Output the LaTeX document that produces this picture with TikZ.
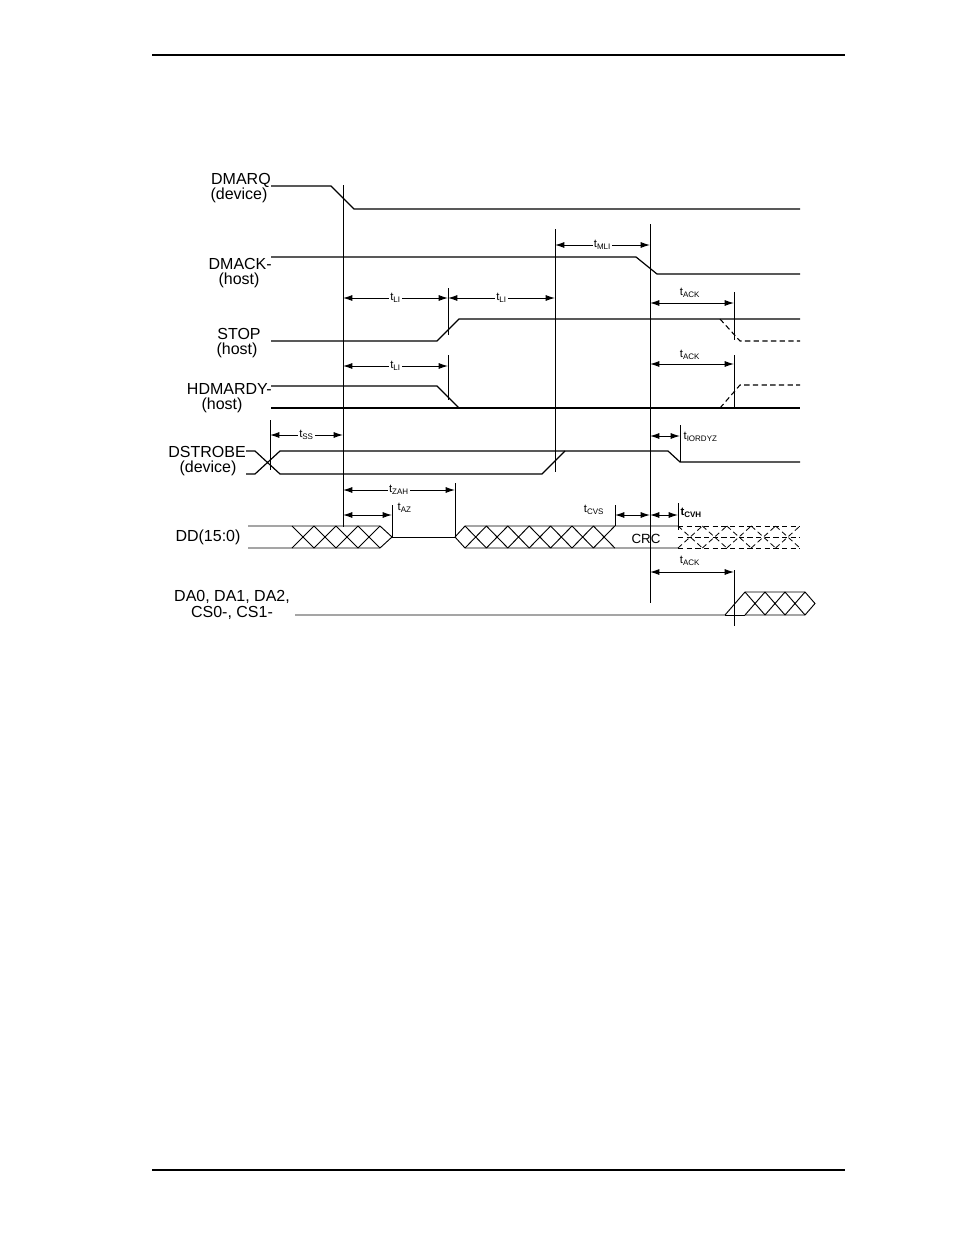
\documentclass[tikz,border=0pt]{standalone}
\usepackage{fontspec}
\setmainfont{Liberation Sans}
\usetikzlibrary{arrows.meta}
\begin{document}
\begin{tikzpicture}[x=0.75pt,y=-0.75pt,
  sig/.style={line width=0.9pt},
  thin/.style={line width=0.7pt},
  dsig/.style={line width=0.8pt,dash pattern=on 4pt off 2.5pt},
  dim/.style={line width=0.7pt,{Latex[length=7pt,width=4.5pt]}-{Latex[length=7pt,width=4.5pt]}},
  dimr/.style={line width=0.7pt,-{Latex[length=7pt,width=4.5pt]}},
  lbl/.style={font=\fontsize{12}{13}\selectfont,inner sep=0pt,align=center},
  tl/.style={font=\fontsize{8.5}{9}\selectfont,inner sep=1pt,fill=white}]
\useasboundingbox (0,0) rectangle (954,1235);
\draw[line width=0.8pt] (152,55) -- (845,55);
\draw[line width=1.1pt] (152,1170) -- (845,1170);
% labels
\node[lbl,anchor=east] (l1) at (271,180) {DMARQ};
\node[lbl] (l1b) at (239,195) {(device)};
\node[lbl,anchor=east] (l2) at (272,264) {DMACK-};
\node[lbl] (l2b) at (239,280) {(host)};
\node[lbl] (l3) at (239,334) {STOP};
\node[lbl] (l3b) at (237,350) {(host)};
\node[lbl,anchor=east] (l4) at (272,389) {HDMARDY-};
\node[lbl] (l4b) at (222,405) {(host)};
\node[lbl,anchor=east] (l5) at (246,452) {DSTROBE};
\node[lbl] (l5b) at (208,468) {(device)};
\node[lbl] (l6) at (208,537) {DD(15:0)};
\node[lbl] (l7) at (232,597) {DA0, DA1, DA2,};
\node[lbl] (l7b) at (232,613) {CS0-, CS1-};
% verticals
\coordinate (v1a) at (343,185); \coordinate (v1b) at (343,527);
\coordinate (v2a) at (555,229); \coordinate (v2b) at (555,472);
\coordinate (v3a) at (650,224); \coordinate (v3b) at (650,603);
\draw[thin] (v1a) -- (v1b); \draw[thin] (v2a) -- (v2b); \draw[thin] (v3a) -- (v3b);
% DMARQ
\draw[sig] (271,186) -- (331,186) -- (354,209) -- (800,209);
% DMACK
\draw[sig] (271,257) -- (636,257) -- (657,274) -- (800,274);
% STOP
\draw[sig] (271,341) -- (437,341) -- (459,319) -- (800,319);
\draw[dsig] (720,319) -- (740,341) -- (800,341);
% HDMARDY
\draw[sig] (271,386) -- (437,386) -- (459,408);
\draw[sig] (271,408) -- (800,408);
\draw[dsig] (720,408) -- (740,385) -- (800,385);
% DSTROBE
\draw[sig] (246,451) -- (255,451) -- (280,474) -- (542,474) -- (565,451);
\draw[sig] (246,474) -- (255,474) -- (280,451) -- (668,451) -- (680,462) -- (800,462);
% tMLI
\draw[dim] (555,245) -- node[tl]{t\textsubscript{\fontsize{6}{6}\selectfont MLI}} (650,245);
% tLI
\coordinate (vl1) at (448,288); \coordinate (vl2) at (448,335);
\draw[thin] (vl1) -- (vl2);
\draw[dim] (343,298) -- node[tl]{t\textsubscript{\fontsize{6}{6}\selectfont LI}} (448,298);
\draw[dim] (448,298) -- node[tl]{t\textsubscript{\fontsize{6}{6}\selectfont LI}} (555,298);
\draw[thin] (448,355) -- (448,400);
\draw[dim] (343,366) -- node[tl]{t\textsubscript{\fontsize{6}{6}\selectfont LI}} (448,366);
% tACK
\draw[thin] (734,292) -- (734,340);
\draw[dim] (650,303) -- (734,303);
\node[tl] (ta1) at (690,293) {t\textsubscript{\fontsize{6}{6}\selectfont ACK}};
\draw[thin] (734,355) -- (734,408);
\draw[dim] (650,364) -- (734,364);
\node[tl] (ta2) at (690,355) {t\textsubscript{\fontsize{6}{6}\selectfont ACK}};
% tSS
\draw[thin] (270,420) -- (270,470);
\draw[dim] (270,435) -- node[tl]{t\textsubscript{\fontsize{6}{6}\selectfont SS}} (343,435);
% tIORDYZ
\draw[thin] (680,425) -- (680,462);
\draw[dim] (650,436) -- (680,436);
\node[tl,anchor=west,fill=none] (tio) at (682,437) {t\textsubscript{\fontsize{6}{6}\selectfont IORDYZ}};
% tZAH, tAZ
\draw[thin] (455,483) -- (455,537);
\draw[dim] (343,490) -- node[tl]{t\textsubscript{\fontsize{6}{6}\selectfont ZAH}} (455,490);
\draw[thin] (392,505) -- (392,537);
\draw[dim] (343,515) -- (392,515);
\node[tl,anchor=west,fill=none] (taz) at (396,508) {t\textsubscript{\fontsize{6}{6}\selectfont AZ}};
% tCVS, tCVH
\draw[thin] (615,505) -- (615,526);
\draw[dim] (615,515) -- (650,515);
\node[tl,fill=none] (tcvs) at (594,510) {t\textsubscript{\fontsize{6}{6}\selectfont CVS}};
\draw[thin] (678,503) -- (678,530);
\draw[dim] (650,515) -- (678,515);
\node[tl,anchor=west,fill=none] (tcvh) at (679,513) {\bfseries t\textsubscript{\fontsize{6}{6}\selectfont CVH}};
% DD bus
\draw[thin] (248,526) -- (380,526) -- (392,537) -- (380,548) -- (248,548);
\foreach \i in {0,...,3} {
  \pgfmathsetmacro{\xa}{292+22*\i}\pgfmathsetmacro{\xb}{\xa+22}
  \draw[thin] (\xa,526) -- (\xb,548) (\xa,548) -- (\xb,526);}
\draw[thin] (392,537) -- (455,537);
\draw[thin] (455,537) -- (465,526) -- (678,526);
\draw[thin] (455,537) -- (465,548) -- (678,548);
\foreach \i in {0,...,6} {
  \pgfmathsetmacro{\xa}{465+21.4*\i}\pgfmathsetmacro{\xb}{\xa+21.4}
  \draw[thin] (\xa,526) -- (\xb,548) (\xa,548) -- (\xb,526);}
\node[font=\fontsize{10}{11}\selectfont,inner sep=1pt] (crc) at (646,539) {CRC};
\draw[dsig,line width=0.6pt] (678,526) -- (800,526) (678,548) -- (800,548) (678,537) -- (800,537);
\foreach \i in {0,...,4} {
  \pgfmathsetmacro{\xa}{678+24.4*\i}\pgfmathsetmacro{\xb}{\xa+24.4}
  \draw[dsig,line width=0.6pt] (\xa,526) -- (\xb,548) (\xa,548) -- (\xb,526);}
% tACK 3
\draw[thin] (734,570) -- (734,626);
\draw[dim] (650,572) -- (734,572);
\node[tl,fill=none] (ta3) at (690,561) {t\textsubscript{\fontsize{6}{6}\selectfont ACK}};
% DA bus
\draw[thin] (295,615) -- (725,615) -- (745,592) -- (805,592) -- (815,603.5) -- (805,615) -- (745,615);
\draw[thin] (725,615) -- (745,615);
\foreach \i in {0,...,2} {
  \pgfmathsetmacro{\xa}{745+20*\i}\pgfmathsetmacro{\xb}{\xa+20}
  \draw[thin] (\xa,592) -- (\xb,615) (\xa,615) -- (\xb,592);}
\end{tikzpicture}
\end{document}
